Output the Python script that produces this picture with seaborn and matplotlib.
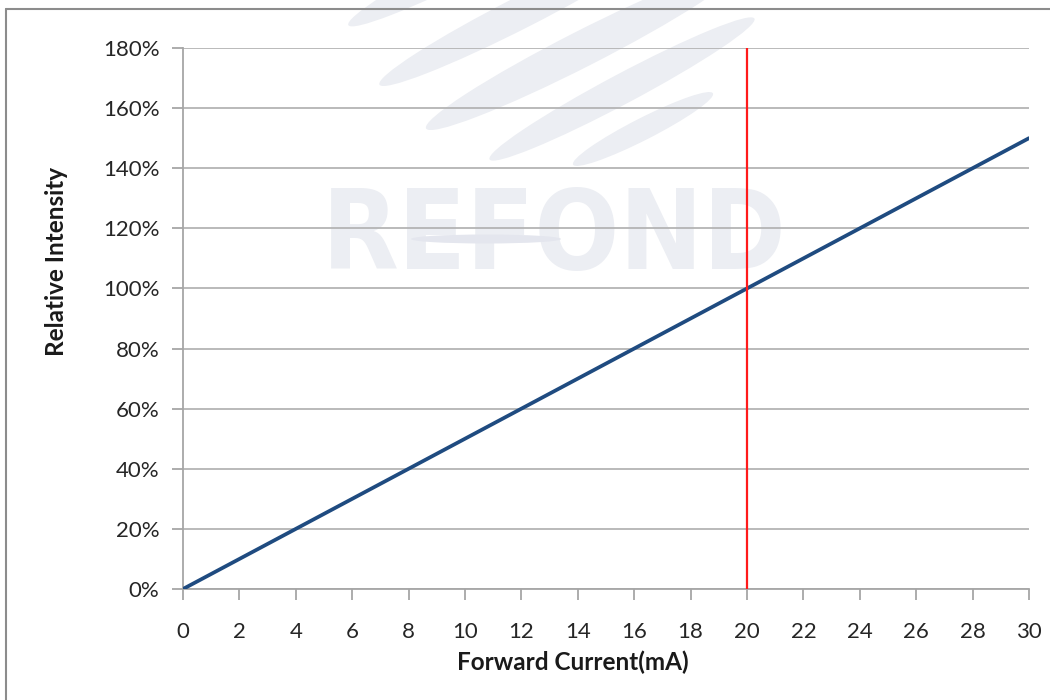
import matplotlib
matplotlib.use("Agg")
import matplotlib.pyplot as plt
import matplotlib.patches as mpatches
from matplotlib.ticker import FuncFormatter
import seaborn as sns
import pandas as pd

# ---- data ----
forward_current_ma = [0, 5, 10, 15, 20, 25, 30]
relative_intensity_pct = [0, 25, 50, 75, 100, 125, 150]
reference_current_ma = 20
x_ticks = list(range(0, 31, 2))
y_ticks = list(range(0, 181, 20))

df = pd.DataFrame({"current": forward_current_ma, "intensity": relative_intensity_pct})

sns.set_theme(style="white")
plt.rcParams["font.family"] = ["Lato", "DejaVu Sans"]

fig = plt.figure(figsize=(10.5, 7), dpi=100)
fig.patch.set_facecolor("white")

# figure frame (left and top edges visible)
fig.add_artist(plt.Line2D([6 / 1050, 6 / 1050], [0, 1 - 9 / 700], transform=fig.transFigure,
                          color="#8c8c8c", lw=1.5))
fig.add_artist(plt.Line2D([6 / 1050, 1], [1 - 9 / 700, 1 - 9 / 700], transform=fig.transFigure,
                          color="#8c8c8c", lw=1.5))

ax = fig.add_axes([183 / 1050, 1 - 589 / 700, (1029 - 183) / 1050, (589 - 48) / 700])
ax.set_facecolor("none")

# watermark (behind everything, drawn in figure inches)
wm_color = "#eceef3"
def px(x, y):
    return (x / 100.0, (700 - y) / 100.0)
ellipses = [
    ((482, -43), 300, 30, 27),
    ((522, 12), 320, 32, 27),
    ((582, 49), 350, 36, 27),
    ((622, 89), 300, 30, 28),
    ((643, 129), 157, 22, 27),
]
for (cx, cy), w, h, ang in ellipses:
    e = mpatches.Ellipse(px(cx, cy), w / 100.0, h / 100.0, angle=ang,
                         transform=fig.dpi_scale_trans, facecolor=wm_color,
                         edgecolor="none", zorder=-5)
    fig.add_artist(e)
fig.text(554 / 1050, 1 - 238 / 700, "REFOND", ha="center", va="center",
         fontsize=80, fontweight="bold", fontstretch="condensed", color=wm_color,
         family=["DejaVu Sans"], zorder=-4)
fig.add_artist(mpatches.Ellipse(px(486, 239), 1.5, 0.09, transform=fig.dpi_scale_trans,
                                facecolor="#e4e6ee", edgecolor="none", zorder=-3))

sns.lineplot(data=df, x="current", y="intensity", ax=ax, color="#1f4b80",
             linewidth=2.7, zorder=3)
ax.axvline(reference_current_ma, color="#ff1a1a", linewidth=1.6, zorder=4)

ax.set_xlim(0, 30)
ax.set_ylim(0, 180)
ax.set_xticks(x_ticks)
ax.set_yticks(y_ticks)
ax.yaxis.set_major_formatter(FuncFormatter(lambda v, p: f"{int(v)}%"))
ax.grid(axis="y", color="#b4b4b4", linewidth=1.3, zorder=1)
ax.grid(axis="x", visible=False)
ax.set_axisbelow(True)

for s in ["top", "right"]:
    ax.spines[s].set_visible(False)
for s in ["left", "bottom"]:
    ax.spines[s].set_color("#a6a6a6")
    ax.spines[s].set_linewidth(1.3)

ax.tick_params(axis="both", which="major", direction="out", length=8, width=1.3,
               color="#a6a6a6", labelsize=16, labelcolor="#262626")
ax.tick_params(axis="x", bottom=True, pad=16)
ax.tick_params(axis="y", left=True, pad=9)

ax.set_xlabel("Forward Current(mA)", fontsize=17.5, fontweight="bold", color="#1a1a1a")
ax.set_ylabel("Relative Intensity", fontsize=17.5, fontweight="bold", color="#1a1a1a")
ax.xaxis.set_label_coords((573 - 183) / 846, -(662 - 589) / 541)
ax.yaxis.set_label_coords(-(183 - 57) / 846, (589 - 262) / 541)
ax.xaxis.label.set_va("center")
ax.yaxis.label.set_va("center")

fig.savefig("out.png", dpi=100, facecolor="white")
